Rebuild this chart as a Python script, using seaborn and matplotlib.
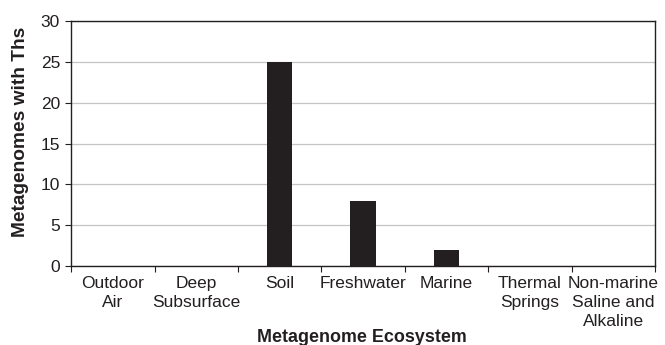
import matplotlib
matplotlib.use("Agg")
import matplotlib.pyplot as plt
import seaborn as sns
import pandas as pd
import numpy as np

categories = ["Outdoor\nAir", "Deep\nSubsurface", "Soil", "Freshwater", "Marine",
              "Thermal\nSprings", "Non-marine\nSaline and\nAlkaline"]
values = [0, 0, 25, 8, 2, 0, 0]
yticks = [0, 5, 10, 15, 20, 25, 30]

sns.set_theme(style="white")
plt.rcParams['font.family'] = ['Liberation Sans', 'DejaVu Sans']

df = pd.DataFrame({"cat": categories, "val": values})
FS = 12.5

fig = plt.figure(figsize=(6.65, 3.45), dpi=100)
ax = fig.add_axes([0.107, 0.229, 0.878, 0.710])
sns.barplot(data=df, x="cat", y="val", ax=ax, color="#231f20", width=0.307,
            saturation=1, zorder=3, linewidth=0)
ax.set_ylim(0, 30)
ax.set_xlim(-0.5, len(categories) - 0.5)
ax.set_yticks(yticks)
ax.set_yticklabels([str(t) for t in yticks], fontsize=FS, color="#231f20")
ax.yaxis.grid(True, color="#c4c4c4", linewidth=0.9, zorder=0)
ax.set_axisbelow(True)
ax.set_xticks(np.arange(len(categories)))
ax.set_xticklabels(categories, fontsize=FS, color="#231f20", linespacing=1.33)
ax.tick_params(axis="x", length=0, pad=7)
ax.set_xticks(np.arange(len(categories) + 1) - 0.5, minor=True)
ax.tick_params(axis="x", which="minor", length=4, width=0.8, color="#231f20", direction="out", bottom=True)
ax.tick_params(axis="y", length=4, width=0.8, color="#231f20", direction="out", left=True, pad=4)
for s in ax.spines.values():
    s.set_visible(True)
    s.set_color("#231f20")
    s.set_linewidth(1.0)
ax.set_xlabel("Metagenome Ecosystem", fontsize=12.9, fontweight="bold", color="#231f20", va="center")
ax.xaxis.set_label_coords(0.498, -0.29)
ax.set_ylabel("Metagenomes with Ths", fontsize=13.8, fontweight="bold", color="#231f20", va="center")
ax.yaxis.set_label_coords(-0.087, 0.547)
fig.savefig("out.png", dpi=100)
